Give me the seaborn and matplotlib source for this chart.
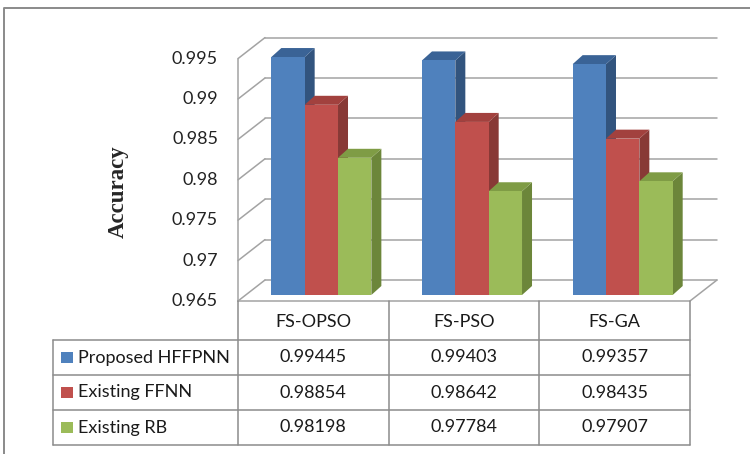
import numpy as np
import pandas as pd
import matplotlib.pyplot as plt
import seaborn as sns
from matplotlib.patches import Polygon, Rectangle

methods = ['FS-OPSO', 'FS-PSO', 'FS-GA']
series = ['Proposed HFFPNN', 'Existing FFNN', 'Existing RB']
hffpnn = [0.99445, 0.99403, 0.99357]
ffnn = [0.98854, 0.98642, 0.98435]
rb = [0.98198, 0.97784, 0.97907]
yticks = [0.965, 0.97, 0.975, 0.98, 0.985, 0.99, 0.995]
ytick_labels = ['0.965', '0.97', '0.975', '0.98', '0.985', '0.99', '0.995']

colors = ['#4F81BD', '#C0504D', '#9BBB59']
side_colors = ['#32547e', '#883936', '#6c863a']
top_colors = ['#3a6396', '#a2413e', '#7f9c45']
line_col = '#a3a3a3'
table_col = '#8c8c8c'

df = pd.DataFrame({'Method': methods * 3,
                   'Series': np.repeat(series, 3),
                   'Accuracy': hffpnn + ffnn + rb})

sns.set_style('white')
plt.rcParams['font.family'] = ['Lato', 'DejaVu Sans']

W, H = 750, 454
fig = plt.figure(figsize=(7.5, 4.54), dpi=100)

# main axes = plane of the bar fronts (pixels: x 246..698, y 295..52.6 from top)
ax = fig.add_axes([246 / W, (H - 295) / H, 452 / W, 242.4 / H])
sns.barplot(data=df, x='Method', y='Accuracy', hue='Series', palette=colors,
            width=0.664, saturation=1, legend=False, linewidth=0, ax=ax, zorder=2)
ax.set_xlim(-0.5, 2.5)
ax.set_ylim(0.965, 0.995)
ax.axis('off')

kx = 452 / 3.0          # px per category unit
ky = 242.4 / 0.03       # px per accuracy unit


def off(dxp, dyp):
    return dxp / kx, dyp / ky


# fake 3d depth for the bars
ddx, ddy = off(10, 9)
for i, p in enumerate(ax.patches):
    k = i // 3
    x0 = p.get_x()
    x1 = x0 + p.get_width()
    top = p.get_height()
    bot = 0.965
    ax.add_patch(Polygon([(x1, bot), (x1, top), (x1 + ddx, top + ddy), (x1 + ddx, bot + ddy)],
                         closed=True, color=side_colors[k], lw=0, zorder=1.5, clip_on=False))
    ax.add_patch(Polygon([(x0, top), (x1, top), (x1 + ddx, top + ddy), (x0 + ddx, top + ddy)],
                         closed=True, color=top_colors[k], lw=0, zorder=1.5, clip_on=False))

# walls and floor
fdx, fdy = off(-8, -6)
bdx, bdy = off(19, 15)
for t, lab in zip(yticks, ytick_labels):
    ax.plot([-0.5 + bdx, 2.5 + bdx], [t + bdy, t + bdy], color=line_col, lw=1.1, zorder=0.5, clip_on=False)
    ax.plot([-0.5 + fdx, -0.5 + bdx], [t + fdy, t + bdy], color=line_col, lw=1.1, zorder=0.5, clip_on=False)
    ax.text(-0.5 + fdx - 20 / kx, t + fdy, lab, ha='right', va='center', fontsize=13, color='#222222')
ax.plot([-0.5 + fdx, -0.5 + fdx], [0.965 + fdy, 0.995 + fdy], color=line_col, lw=1.1, zorder=0.5, clip_on=False)
ax.plot([-0.5 + fdx, 2.5 + fdx, 2.5 + bdx], [0.965 + fdy, 0.965 + fdy, 0.965 + bdy],
        color=line_col, lw=1.1, zorder=0.5, clip_on=False)

fig.text(118 / W, 1 - 192 / H, 'Accuracy', rotation=90, ha='center', va='center',
         fontsize=16.5, fontweight='bold', family=['Liberation Serif', 'DejaVu Serif'])

# overlay in pixel coords for the data table and frame
tab = fig.add_axes([0, 0, 1, 1])
tab.set_xlim(0, W)
tab.set_ylim(H, 0)
tab.axis('off')

bounds = [-0.5, 0.5, 1.5, 2.5]
col_px = [ax.transData.transform((b + fdx, 0.98))[0] for b in bounds]
top_px = H - ax.transData.transform((0, 0.965 + fdy))[1]
row_px = [340, 375, 410, 445]
left_px = 53

for c in col_px:
    tab.plot([c, c], [top_px, row_px[-1]], color=table_col, lw=1.1)
tab.plot([left_px, left_px], [row_px[0], row_px[-1]], color=table_col, lw=1.1)
for r in row_px:
    tab.plot([left_px, col_px[-1]], [r, r], color=table_col, lw=1.1)

for j, m in enumerate(methods):
    cx = (col_px[j] + col_px[j + 1]) / 2
    tab.text(cx, (top_px + row_px[0]) / 2 + 1, m, ha='center', va='center', fontsize=13, color='#1a1a1a')

for k, (name, vals) in enumerate(zip(series, [hffpnn, ffnn, rb])):
    cy = (row_px[k] + row_px[k + 1]) / 2
    tab.add_patch(Rectangle((61, cy - 5.5), 12, 11, color=colors[k], lw=0))
    tab.text(78, cy, name, ha='left', va='center', fontsize=13, color='#1a1a1a')
    for j, v in enumerate(vals):
        cx = (col_px[j] + col_px[j + 1]) / 2
        tab.text(cx, cy, f'{v:.5f}', ha='center', va='center', fontsize=13, color='#1a1a1a')

# outer chart frame
tab.plot([4, 4, W], [H, 8, 8], color='#8a8a8a', lw=1.4)

fig.savefig('out.png', dpi=100)
